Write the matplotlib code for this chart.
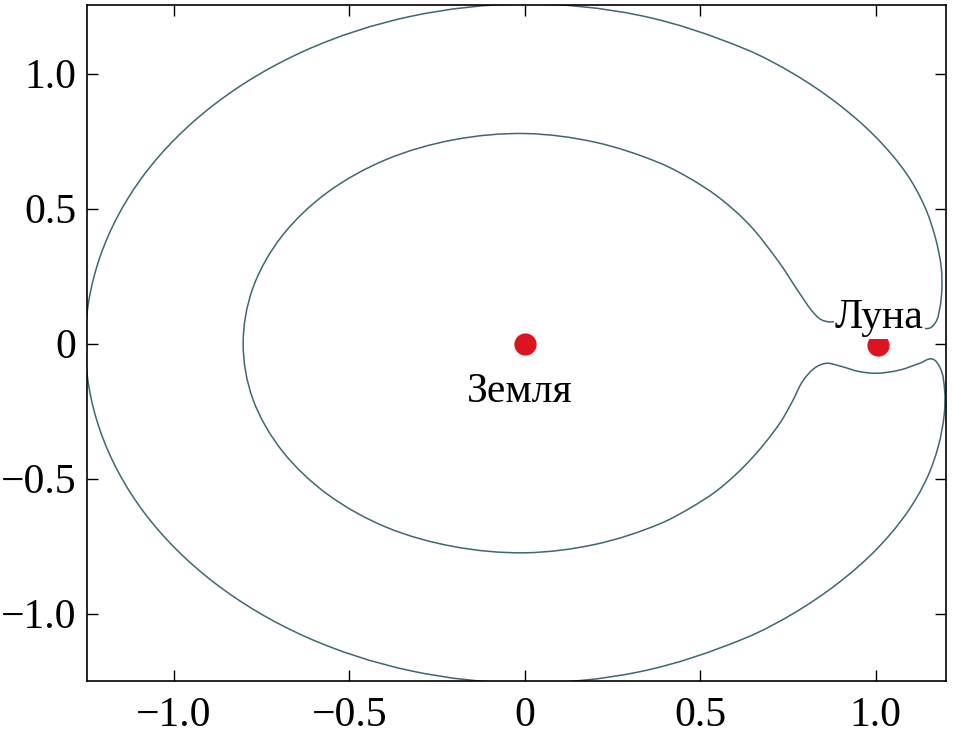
import numpy as np
import matplotlib
matplotlib.use("Agg")
from matplotlib import pyplot as plt
from matplotlib.path import Path
from matplotlib.patches import PathPatch

# zero-velocity curve, one closed path:
# hidden bridge above the Moon -> outer arc -> bottom bridge -> inner arc
bridge_top_x = [0.895, 0.950, 1.000, 1.060, 1.110, 1.150]
bridge_top_y = [0.086, 0.097, 0.102, 0.095, 0.070, 0.056]

outer_x = [1.170, 1.182, 1.188, 1.186, 1.170, 1.140, 1.088, 0.999, 0.890, 0.766,
           0.630, 0.326, 0.000, -0.325, -0.626, -0.885, -1.084, -1.209, -1.252, -1.209,
           -1.084, -0.885, -0.626, -0.325, 0.000, 0.326, 0.630, 0.766, 0.890, 0.999,
           1.088, 1.145, 1.178, 1.195, 1.196]
outer_y = [0.078, 0.130, 0.200, 0.285, 0.390, 0.505, 0.628, 0.766, 0.890, 0.999,
           1.090, 1.216, 1.258, 1.212, 1.085, 0.885, 0.626, 0.324, 0.000, -0.324,
           -0.626, -0.885, -1.085, -1.212, -1.258, -1.216, -1.090, -0.999, -0.890, -0.766,
           -0.628, -0.500, -0.380, -0.260, -0.175]

bridge_bot_x = [1.183, 1.160, 1.125, 1.068, 1.002, 0.954, 0.897, 0.860, 0.831, 0.794]
bridge_bot_y = [-0.090, -0.057, -0.073, -0.098, -0.110, -0.104, -0.083, -0.073, -0.086, -0.135]

inner_x = [0.762, 0.726, 0.636, 0.547, 0.470, 0.386, 0.200, 0.000, -0.202, -0.393,
           -0.560, -0.690, -0.774, -0.802, -0.774, -0.691, -0.561, -0.394, -0.202, 0.000,
           0.200, 0.386, 0.470, 0.547, 0.636, 0.726, 0.783, 0.822, 0.845, 0.870]
inner_y = [-0.215, -0.296, -0.440, -0.545, -0.610, -0.667, -0.744, -0.775, -0.752, -0.681,
           -0.560, -0.399, -0.207, 0.000, 0.207, 0.399, 0.561, 0.682, 0.755, 0.778,
           0.746, 0.668, 0.612, 0.547, 0.445, 0.298, 0.186, 0.115, 0.088, 0.080]

bodies_x = [0.0, 1.007]
bodies_y = [0.0, -0.006]
body_names = ["Земля", "Луна"]
label_x = [-0.014, 1.01]
label_y = [-0.215, 0.056]

xticks = [-1.0, -0.5, 0, 0.5, 1.0]
xticklabels = ["\u22121.0", "\u22120.5", "0", "0.5", "1.0"]
yticks = [-1.0, -0.5, 0, 0.5, 1.0]
yticklabels = ["\u22121.0", "\u22120.5", "0", "0.5", "1.0"]


def smooth_closed_path(xs, ys):
    # cubic bezier pieces through the traced points; tangent = bisector of
    # neighbouring chord directions, handle length = chord / 3
    p = np.column_stack([xs, ys])
    n = len(p)
    fwd = np.roll(p, -1, axis=0) - p
    ln = np.hypot(fwd[:, 0], fwd[:, 1])[:, None]
    u = fwd / ln
    tan = u + np.roll(u, 1, axis=0)
    tan /= np.hypot(tan[:, 0], tan[:, 1])[:, None]
    verts = [p[0]]
    codes = [Path.MOVETO]
    for i in range(n):
        j = (i + 1) % n
        d = ln[i, 0] / 3.0
        verts += [p[i] + tan[i] * d, p[j] - tan[j] * d, p[j]]
        codes += [Path.CURVE4] * 3
    return Path(verts, codes)


plt.rcParams['font.family'] = ['Liberation Serif', 'DejaVu Serif']

fig = plt.figure(figsize=(9.54, 7.40), dpi=100)
ax = fig.add_axes([0.0915, 0.0797, 0.8998, 0.9135])

path_x = bridge_top_x + outer_x + bridge_bot_x + inner_x
path_y = bridge_top_y + outer_y + bridge_bot_y + inner_y
ax.add_patch(PathPatch(smooth_closed_path(path_x, path_y), facecolor='none',
                       edgecolor='#3d6872', lw=1.1))

ax.plot(bodies_x, bodies_y, 'o', color='#dc1420', ms=16, mec='none', zorder=3)
for name, tx, ty in zip(body_names, label_x, label_y):
    ax.text(tx, ty, name, ha='center', va='baseline', fontsize=30, zorder=4,
            bbox=dict(facecolor='white', edgecolor='none', pad=1))

ax.set_xlim(-1.246, 1.199)
ax.set_ylim(-1.250, 1.254)
ax.set_xticks(xticks)
ax.set_xticklabels(xticklabels)
ax.set_yticks(yticks)
ax.set_yticklabels(yticklabels)
ax.tick_params(axis='x', pad=11)
ax.tick_params(direction='in', length=8, width=1, labelsize=30,
               top=True, right=True)
ax.tick_params(axis='y', pad=8)
for sp in ax.spines.values():
    sp.set_linewidth(1.2)

fig.savefig("out.png", dpi=100)
